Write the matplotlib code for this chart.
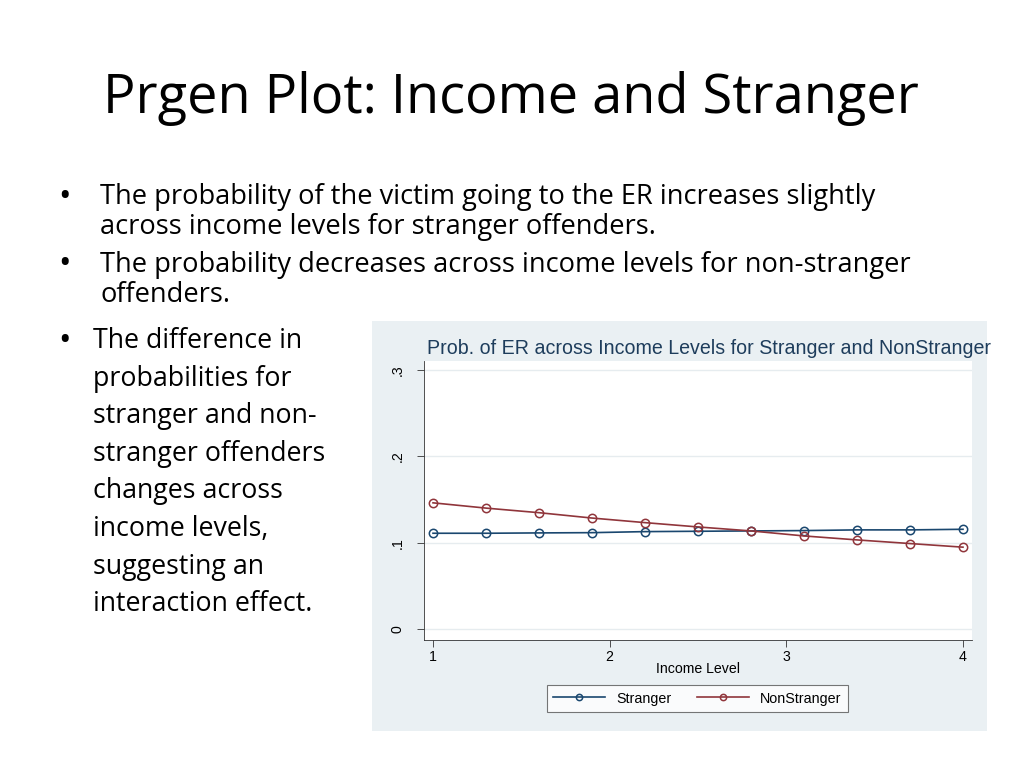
import numpy as np
import matplotlib
matplotlib.use('Agg')
import matplotlib.pyplot as plt
from matplotlib.patches import Rectangle

# predicted probabilities
income = [1.0, 1.3, 1.6, 1.9, 2.2, 2.5, 2.8, 3.1, 3.4, 3.7, 4.0]
stranger = [0.1111, 0.1111, 0.1115, 0.1118, 0.1130, 0.1134, 0.1138, 0.1142, 0.1150, 0.1150, 0.1157]
nonstranger = [0.1463, 0.1402, 0.1349, 0.1287, 0.1234, 0.1184, 0.1138, 0.1080, 0.1034, 0.0992, 0.0950]
yticks = [0, 0.1, 0.2, 0.3]
yticklabels = ['0', '.1', '.2', '.3']
xticks = [1, 2, 3, 4]

slide_title = 'Prgen Plot: Income and Stranger'
bullets_top = [
    ('The probability of the victim going to the ER increases slightly', 'across income levels for stranger offenders.'),
    ('The probability decreases across income levels for non-stranger', 'offenders.'),
]
bullet_left = ['The difference in', 'probabilities for', 'stranger and non-',
               'stranger offenders', 'changes across', 'income levels,',
               'suggesting an', 'interaction effect.']

W, H = 1024, 768
fig = plt.figure(figsize=(W / 100, H / 100), dpi=100)
fig.patch.set_facecolor('white')
slide_font = ['Open Sans', 'DejaVu Sans']


def px(x, y):
    return x / W, 1 - y / H


# slide title and bullets
fig.text(*px(103, 98), slide_title, fontsize=39, family=slide_font, va='center', ha='left', color='black')

ys = [197, 227, 265, 295]
k = 0
for first, second in bullets_top:
    fig.text(*px(58, ys[k]), '\u2022', fontsize=24, family=slide_font, va='center')
    fig.text(*px(100, ys[k]), first, fontsize=19.6, family=slide_font, va='center')
    fig.text(*px(100, ys[k + 1]), second, fontsize=19.6, family=slide_font, va='center')
    k += 2

fig.text(*px(58, 341), '\u2022', fontsize=24, family=slide_font, va='center')
for i, line in enumerate(bullet_left):
    fig.text(*px(93, 341 + i * 37.6), line, fontsize=19.3, family=slide_font, va='center')

# Stata graph region
bg = Rectangle(px(372, 731), (987 - 372) / W, (731 - 321) / H, transform=fig.transFigure,
               facecolor='#eaf0f3', edgecolor='none', zorder=-10)
fig.patches.append(bg)

l, b = px(424, 640)
r, t = px(972, 361)
ax = fig.add_axes([l, b, r - l, t - b])
ax.set_zorder(5)
ax.set_facecolor('white')

navy = '#1a476f'
maroon = '#90353b'
ax.plot(income, stranger, color=navy, lw=1.2, marker='o', ms=6, mfc='none', mec=navy, mew=1.1, label='Stranger')
ax.plot(income, nonstranger, color=maroon, lw=1.2, marker='o', ms=6, mfc='none', mec=maroon, mew=1.1, label='NonStranger')

ax.set_xlim(0.949, 4.051)
ax.set_ylim(-0.0124, 0.3104)
ax.set_yticks(yticks)
ax.set_yticklabels(yticklabels, rotation=90, va='center')
ax.set_xticks(xticks)
ax.tick_params(labelsize=10.2, length=5, width=0.6, color='#333333')
ax.tick_params(axis='y', pad=9)
ax.tick_params(axis='x', pad=2)
for lab in ax.get_yticklabels():
    lab.set_fontfamily('Liberation Sans')
for lab in ax.get_xticklabels():
    lab.set_fontfamily('Liberation Sans')
ax.grid(axis='y', color='#e6ecef', lw=1)
ax.set_axisbelow(True)
for s in ['top', 'right']:
    ax.spines[s].set_visible(False)
for s in ['left', 'bottom']:
    ax.spines[s].set_color('#333333')
    ax.spines[s].set_linewidth(0.6)

ax.set_xlabel('Income Level', fontsize=10.2, family='Liberation Sans', labelpad=-1)
fig.text(*px(427, 348), 'Prob. of ER across Income Levels for Stranger and NonStranger',
         fontsize=14.1, family='Liberation Sans', color='#1e3d5c', va='center', ha='left')

leg = ax.legend(loc='center', bbox_to_anchor=(((549 + 846) / 2) / W, 1 - 698.5 / H),
                bbox_transform=fig.transFigure, ncol=2, frameon=True, fancybox=False,
                prop={'family': 'Liberation Sans', 'size': 10.3}, handlelength=3.6,
                handletextpad=0.8, columnspacing=1.8, borderpad=0.45, markerscale=0.75,
                numpoints=1)
leg.get_frame().set_edgecolor('#555555')
leg.get_frame().set_linewidth(0.8)

fig.savefig('out.png', dpi=100)
